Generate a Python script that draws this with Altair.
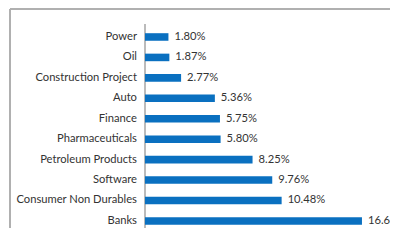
import altair as alt
import pandas as pd

sectors = ["Power", "Oil", "Construction Project", "Auto", "Finance",
           "Pharmaceuticals", "Petroleum Products", "Software",
           "Consumer Non Durables", "Banks"]
weights = [1.80, 1.87, 2.77, 5.36, 5.75, 5.80, 8.25, 9.76, 10.48, 16.64]
labels = ["1.80%", "1.87%", "2.77%", "5.36%", "5.75%", "5.80%",
          "8.25%", "9.76%", "10.48%", "16.64%"]

df = pd.DataFrame({"sector": sectors, "weight": weights, "label": labels,
                   "zero": [0.0] * len(sectors)})

FONT = "Lato"
W, H = 380, 219
x_scale = alt.Scale(domain=[-10.35, 18.79], nice=False, zero=False)
y_scale = alt.Scale(domain=sectors, paddingInner=0.63, paddingOuter=0.673, align=0.88)

base = alt.Chart(df)

bars = base.mark_bar(color="#0a70c0", clip=True).encode(
    x=alt.X("zero:Q", scale=x_scale, axis=None),
    x2="weight:Q",
    y=alt.Y("sector:N", scale=y_scale, axis=None, sort=sectors),
)

values = base.mark_text(align="left", baseline="middle", dx=6, font=FONT,
                        fontSize=11.2, color="#333333").encode(
    x=alt.X("weight:Q", scale=x_scale, axis=None),
    y=alt.Y("sector:N", scale=y_scale, sort=sectors, axis=None),
    text="label:N",
)

names = base.mark_text(align="right", baseline="middle", dx=-8, font=FONT,
                       fontSize=11.2, color="#333333").encode(
    x=alt.X("zero:Q", scale=x_scale, axis=None),
    y=alt.Y("sector:N", scale=y_scale, sort=sectors, axis=None),
    text="sector:N",
)

axis_line = base.mark_rule(color="#bbbbbb", strokeWidth=1).encode(
    x=alt.X("zero:Q", scale=x_scale, axis=None),
    y=alt.value(15),
    y2=alt.value(H),
)

top_border = base.mark_rule(color="#b0b0b0", strokeWidth=1.5).encode(
    x=alt.value(0), x2=alt.value(W), y=alt.value(0)
)
left_border = base.mark_rule(color="#b0b0b0", strokeWidth=1.5).encode(
    x=alt.value(0), y=alt.value(0), y2=alt.value(H)
)

chart = alt.layer(top_border, left_border, axis_line, bars, values, names).properties(
    width=W, height=H,
    padding={"left": 2, "top": 1, "right": 0, "bottom": 0},
    autosize=alt.AutoSizeParams(type="none"),
    background="white",
).configure_view(stroke=None)

chart.save("out.html", embed_options={"renderer": "svg", "actions": False})
